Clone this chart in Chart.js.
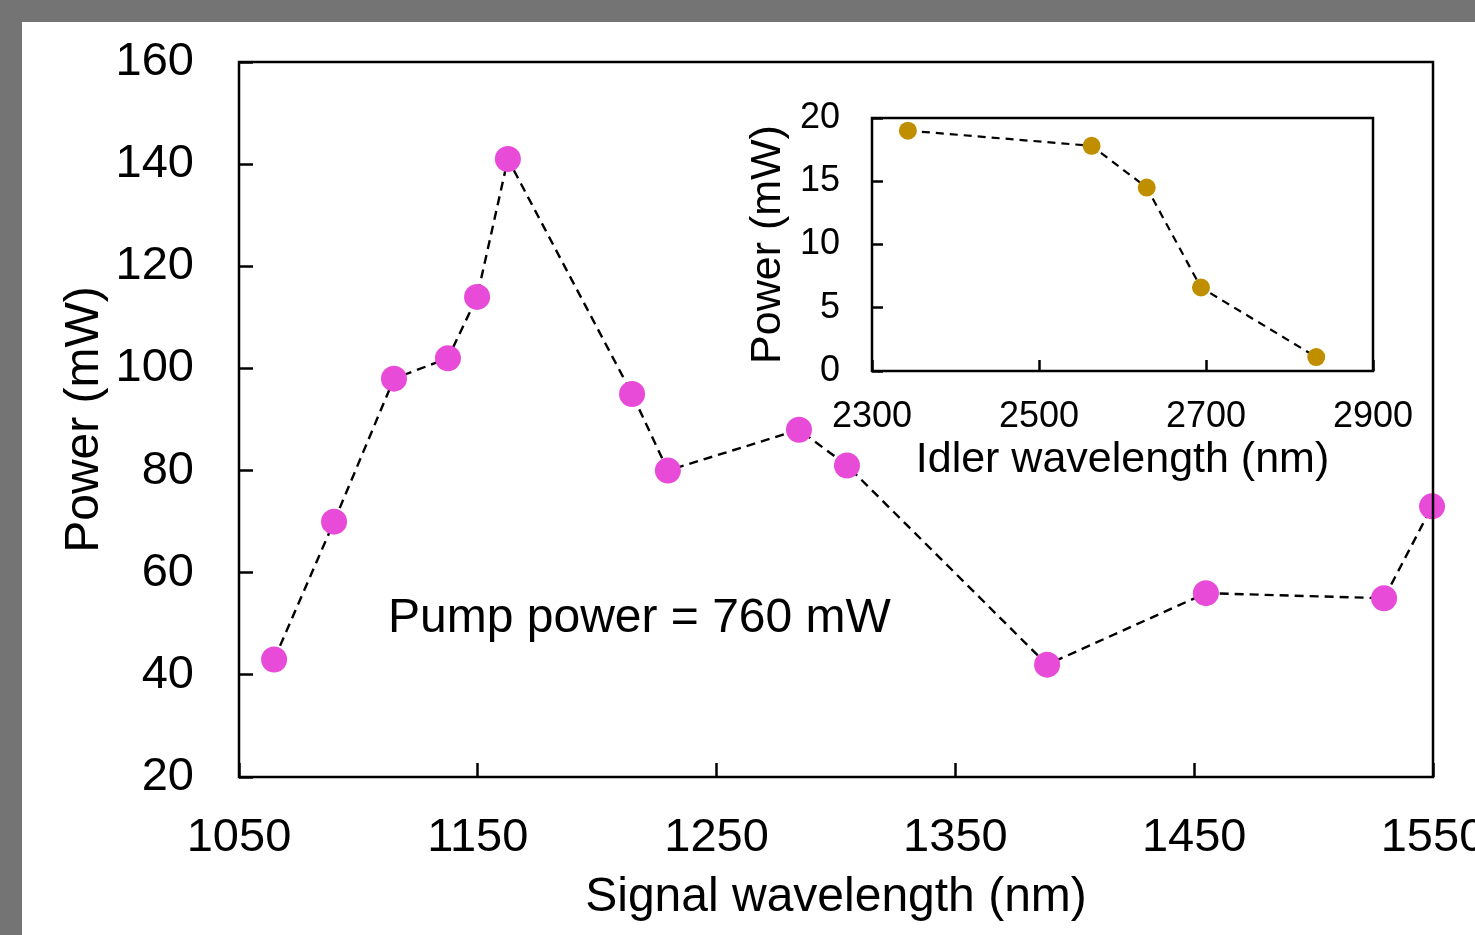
<!DOCTYPE html>
<html lang="en">
  <head>
    <meta charset="UTF-8" />
    <script src="https://cdn.jsdelivr.net/npm/chart.js"></script>
    <title>Signal and idler power</title>
    <style>
      body { margin: 0; background: #747474; width: 1475px; height: 935px; overflow: hidden; }
      #panel { position: absolute; left: 22px; top: 22px; width: 1453px; height: 913px; background: #fff; }
      #mainBox { position: absolute; left: 0; top: 0; width: 1453px; height: 913px; }
      #insetBox { position: absolute; left: 718px; top: 73px; width: 680px; height: 395px; }
    </style>
  </head>

  <body>
    <div id="panel">
      <div id="mainBox"><canvas id="mainChart"></canvas></div>
      <div id="insetBox"><canvas id="insetChart"></canvas></div>
    </div>
    <script>
      // signal (main plot)
      const signalWl = [1064.7, 1089.8, 1114.9, 1137.5, 1149.7, 1162.6, 1214.6, 1229.6, 1284.5, 1304.6, 1388.4, 1454.9, 1529.5, 1549.6];
      const signalPower = [43, 70, 98, 102, 114, 141, 95, 80, 88, 81, 42, 56, 55, 73];
      // idler (inset)
      const idlerWl = [2343, 2563, 2629, 2694, 2832];
      const idlerPower = [19, 17.8, 14.5, 6.6, 1.1];

      const FONT = "'Liberation Sans', Arial, sans-serif";

      function pts(xs, ys) {
        return xs.map((x, i) => ({ x: x, y: ys[i] }));
      }

      // draws the closed box around the plot area
      const frame = {
        id: "frame",
        afterDraw(chart, args, opts) {
          const a = chart.chartArea, ctx = chart.ctx;
          ctx.save();
          ctx.strokeStyle = "#000";
          ctx.lineWidth = opts.width;
          ctx.strokeRect(a.left, a.top, a.right - a.left, a.bottom - a.top);
          ctx.restore();
        }
      };

      const note = {
        id: "note",
        afterDatasetsDraw(chart) {
          const ctx = chart.ctx;
          ctx.save();
          ctx.font = "48px " + FONT;
          ctx.fillStyle = "#000";
          ctx.textAlign = "left";
          ctx.textBaseline = "middle";
          ctx.fillText("Pump power = 760 mW", chart.scales.x.getPixelForValue(1112.4), chart.scales.y.getPixelForValue(51));
          ctx.restore();
        }
      };

      function axis(o) {
        return {
          type: "linear",
          position: o.pos,
          min: o.min, max: o.max,
          border: { display: false },
          grid: { drawOnChartArea: false, drawTicks: true, tickLength: -o.tick, tickWidth: o.lw, tickColor: "#000" },
          ticks: {
            stepSize: o.step, autoSkip: false, maxRotation: 0, padding: o.pad, color: "#000",
            font: { family: FONT, size: o.fs },
            callback: (v) => String(v)
          },
          title: { display: true, text: o.title, color: "#000", font: { family: FONT, size: o.tfs }, padding: o.tpad },
          afterFit(s) {
            if (o.pos === "bottom") s.height = o.size; else s.width = o.size;
            s.paddingLeft = 0; s.paddingRight = 0; s.paddingTop = 0; s.paddingBottom = 0;
          }
        };
      }

      new Chart(document.getElementById("mainChart"), {
        type: "line",
        data: {
          datasets: [{
            data: pts(signalWl, signalPower),
            borderColor: "#000",
            borderWidth: 2.4,
            borderDash: [9, 6],
            pointRadius: 13,
            pointBackgroundColor: "#E84BD7",
            pointBorderWidth: 0,
            tension: 0,
            clip: false
          }]
        },
        options: {
          responsive: true,
          maintainAspectRatio: false,
          animation: false,
          events: [],
          layout: { padding: { left: 0, top: 40, right: 42, bottom: 0 } },
          plugins: { legend: { display: false }, tooltip: { enabled: false }, frame: { width: 2.5 } },
          scales: {
            x: axis({ pos: "bottom", min: 1050, max: 1550, step: 100, tick: 14, lw: 2.5, pad: 47, fs: 47, title: "Signal wavelength (nm)", tfs: 48, tpad: { top: 0, bottom: 8 }, size: 158 }),
            y: axis({ pos: "left", min: 20, max: 160, step: 20, tick: 14, lw: 2.5, pad: 59, fs: 47, title: "Power (mW)", tfs: 48, tpad: { top: 34, bottom: 0 }, size: 217 })
          }
        },
        plugins: [frame, note]
      });

      new Chart(document.getElementById("insetChart"), {
        type: "line",
        data: {
          datasets: [{
            data: pts(idlerWl, idlerPower),
            borderColor: "#000",
            borderWidth: 2.2,
            borderDash: [8, 6],
            pointRadius: 9,
            pointBackgroundColor: "#BF8F00",
            pointBorderWidth: 0,
            tension: 0,
            clip: false
          }]
        },
        options: {
          responsive: true,
          maintainAspectRatio: false,
          animation: false,
          events: [],
          layout: { padding: { left: 0, top: 23, right: 47, bottom: 0 } },
          plugins: { legend: { display: false }, tooltip: { enabled: false }, frame: { width: 2.5 } },
          scales: {
            x: axis({ pos: "bottom", min: 2300, max: 2900, step: 200, tick: 11, lw: 2.5, pad: 35, fs: 36, title: "Idler wavelength (nm)", tfs: 43, tpad: { top: 0, bottom: 4 }, size: 119 }),
            y: axis({ pos: "left", min: 0, max: 20, step: 5, tick: 11, lw: 2.5, pad: 43, fs: 36, title: "Power (mW)", tfs: 43, tpad: { top: 2, bottom: 0 }, size: 132 })
          }
        },
        plugins: [frame]
      });
    </script>
  </body>
</html>
